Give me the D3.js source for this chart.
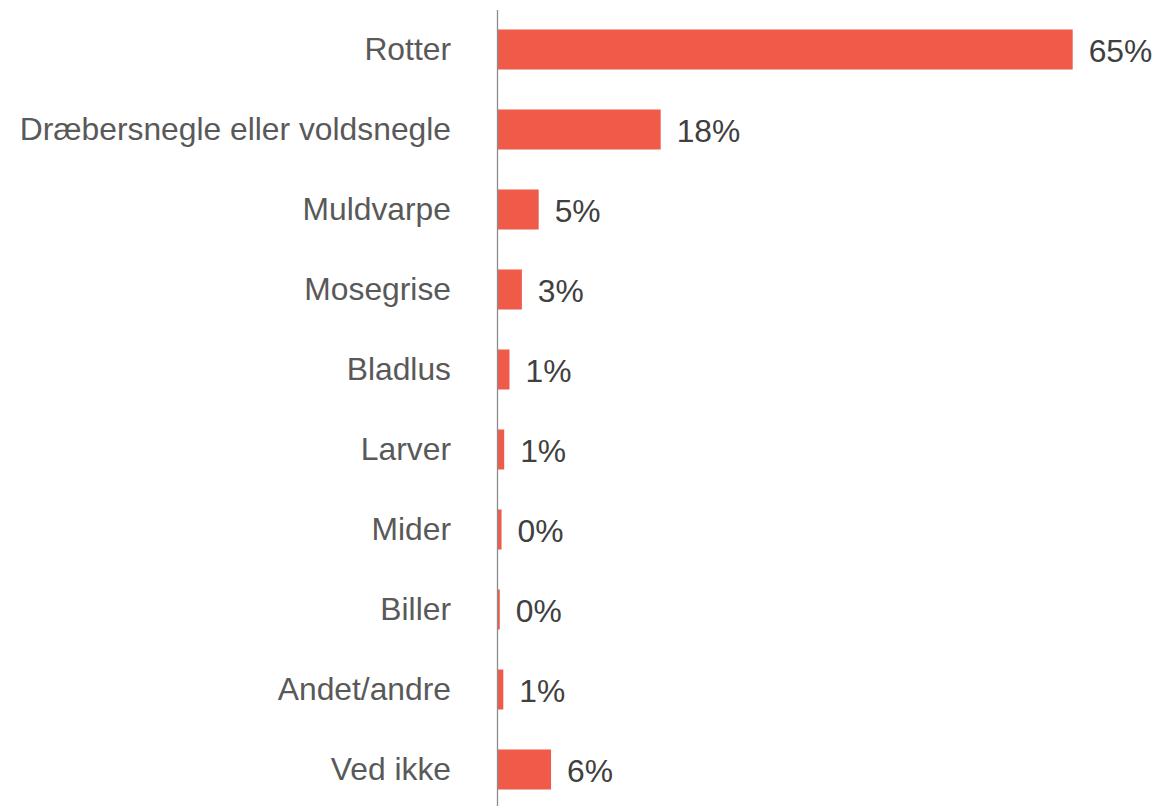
<!DOCTYPE html>
<html>
<head>
<meta charset="utf-8">
<script src="https://cdn.jsdelivr.net/npm/d3@7"></script>
<style>
  body { margin: 0; background: #fff; }
  text { font-family: "Liberation Sans", Arial, sans-serif; }
</style>
</head>
<body>
<div id="chart"></div>
<script>
const categories = ["Rotter", "Dræbersnegle eller voldsnegle", "Muldvarpe", "Mosegrise", "Bladlus",
                    "Larver", "Mider", "Biller", "Andet/andre", "Ved ikke"];
const values = [65, 18.4, 4.6, 2.7, 1.3, 0.7, 0.4, 0.2, 0.6, 6.0];
const valueLabels = ["65%", "18%", "5%", "3%", "1%", "1%", "0%", "0%", "1%", "6%"];

const width = 1162;
const height = 806;
const axisX = 497.5;

const svg = d3.select("#chart")
    .append("svg")
    .attr("width", width)
    .attr("height", height);

const y = d3.scaleBand()
    .domain(categories)
    .range([9.5, 809.5])
    .paddingInner(0.5)
    .paddingOuter(0.25);

const x = d3.scaleLinear()
    .domain([0, 65])
    .range([498, 1072.7]);

// bars
svg.selectAll(".bar")
    .data(values)
    .enter().append("rect")
    .attr("class", "bar")
    .attr("x", x(0))
    .attr("y", (d, i) => y(categories[i]))
    .attr("width", d => x(d) - x(0))
    .attr("height", y.bandwidth())
    .attr("fill", "#EF5B48");

// value labels
svg.selectAll(".val")
    .data(values)
    .enter().append("text")
    .attr("class", "val")
    .attr("x", d => x(d) + 16)
    .attr("y", (d, i) => y(categories[i]) + y.bandwidth() / 2 + 1)
    .attr("dy", "0.35em")
    .style("font-size", "31.8px")
    .attr("fill", "#404040")
    .text((d, i) => valueLabels[i]);

// category labels
svg.selectAll(".cat")
    .data(categories)
    .enter().append("text")
    .attr("class", "cat")
    .attr("x", 451)
    .attr("y", d => y(d) + y.bandwidth() / 2 - 0.5)
    .attr("dy", "0.35em")
    .attr("text-anchor", "end")
    .style("font-size", "31.8px")
    .attr("fill", "#595959")
    .text(d => d);

// axis line
svg.append("line")
    .attr("x1", axisX).attr("x2", axisX)
    .attr("y1", 10).attr("y2", height)
    .attr("stroke", "#8c8c8c")
    .attr("stroke-width", 1.3);
</script>
</body>
</html>
